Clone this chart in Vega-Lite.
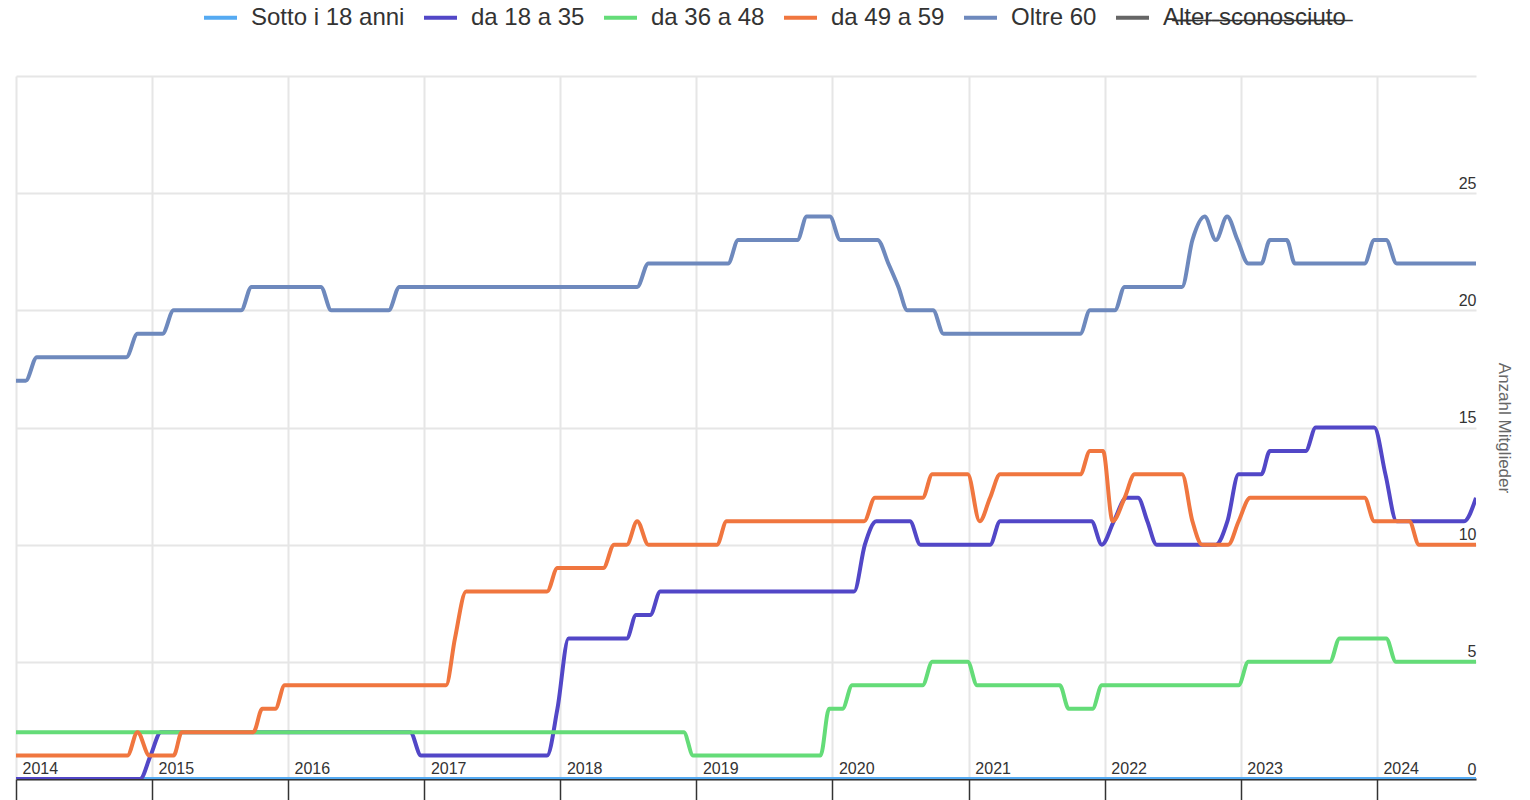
{
  "$schema": "https://vega.github.io/schema/vega-lite/v6.json",
  "width": 1460,
  "height": 703,
  "autosize": {"type": "none"},
  "padding": {"left": 16, "top": 76, "right": 54, "bottom": 21},
  "background": "white",
  "config": {
    "view": {"stroke": null},
    "font": "Liberation Sans"
  },
  "data": {
    "values": [
      {"s": "Sotto i 18 anni", "d": "2014-01-01", "v": 0},
      {"s": "Sotto i 18 anni", "d": "2024-09-23", "v": 0},

      {"s": "da 18 a 35", "d": "2014-01-01", "v": 0},
      {"s": "da 18 a 35", "d": "2014-11-30", "v": 0},
      {"s": "da 18 a 35", "d": "2014-12-28", "v": 1},
      {"s": "da 18 a 35", "d": "2015-01-25", "v": 2},
      {"s": "da 18 a 35", "d": "2016-11-24", "v": 2},
      {"s": "da 18 a 35", "d": "2016-12-23", "v": 1},
      {"s": "da 18 a 35", "d": "2017-11-26", "v": 1},
      {"s": "da 18 a 35", "d": "2017-12-24", "v": 3},
      {"s": "da 18 a 35", "d": "2018-01-23", "v": 6},
      {"s": "da 18 a 35", "d": "2018-06-28", "v": 6},
      {"s": "da 18 a 35", "d": "2018-07-23", "v": 7},
      {"s": "da 18 a 35", "d": "2018-08-30", "v": 7},
      {"s": "da 18 a 35", "d": "2018-09-26", "v": 8},
      {"s": "da 18 a 35", "d": "2020-02-28", "v": 8},
      {"s": "da 18 a 35", "d": "2020-03-28", "v": 10},
      {"s": "da 18 a 35", "d": "2020-04-28", "v": 11},
      {"s": "da 18 a 35", "d": "2020-07-27", "v": 11},
      {"s": "da 18 a 35", "d": "2020-08-24", "v": 10},
      {"s": "da 18 a 35", "d": "2021-02-27", "v": 10},
      {"s": "da 18 a 35", "d": "2021-03-26", "v": 11},
      {"s": "da 18 a 35", "d": "2021-11-26", "v": 11},
      {"s": "da 18 a 35", "d": "2021-12-24", "v": 10},
      {"s": "da 18 a 35", "d": "2022-01-25", "v": 11},
      {"s": "da 18 a 35", "d": "2022-02-28", "v": 12},
      {"s": "da 18 a 35", "d": "2022-03-31", "v": 12},
      {"s": "da 18 a 35", "d": "2022-04-25", "v": 11},
      {"s": "da 18 a 35", "d": "2022-05-20", "v": 10},
      {"s": "da 18 a 35", "d": "2022-10-26", "v": 10},
      {"s": "da 18 a 35", "d": "2022-11-26", "v": 11},
      {"s": "da 18 a 35", "d": "2022-12-26", "v": 13},
      {"s": "da 18 a 35", "d": "2023-02-25", "v": 13},
      {"s": "da 18 a 35", "d": "2023-03-20", "v": 14},
      {"s": "da 18 a 35", "d": "2023-06-24", "v": 14},
      {"s": "da 18 a 35", "d": "2023-07-21", "v": 15},
      {"s": "da 18 a 35", "d": "2023-12-25", "v": 15},
      {"s": "da 18 a 35", "d": "2024-01-24", "v": 13},
      {"s": "da 18 a 35", "d": "2024-02-23", "v": 11},
      {"s": "da 18 a 35", "d": "2024-08-22", "v": 11},
      {"s": "da 18 a 35", "d": "2024-09-23", "v": 12},

      {"s": "da 36 a 48", "d": "2014-01-01", "v": 2},
      {"s": "da 36 a 48", "d": "2018-11-28", "v": 2},
      {"s": "da 36 a 48", "d": "2018-12-23", "v": 1},
      {"s": "da 36 a 48", "d": "2019-11-30", "v": 1},
      {"s": "da 36 a 48", "d": "2019-12-23", "v": 3},
      {"s": "da 36 a 48", "d": "2020-01-28", "v": 3},
      {"s": "da 36 a 48", "d": "2020-02-23", "v": 4},
      {"s": "da 36 a 48", "d": "2020-08-30", "v": 4},
      {"s": "da 36 a 48", "d": "2020-09-25", "v": 5},
      {"s": "da 36 a 48", "d": "2020-12-29", "v": 5},
      {"s": "da 36 a 48", "d": "2021-01-23", "v": 4},
      {"s": "da 36 a 48", "d": "2021-09-02", "v": 4},
      {"s": "da 36 a 48", "d": "2021-09-26", "v": 3},
      {"s": "da 36 a 48", "d": "2021-11-29", "v": 3},
      {"s": "da 36 a 48", "d": "2021-12-24", "v": 4},
      {"s": "da 36 a 48", "d": "2022-12-26", "v": 4},
      {"s": "da 36 a 48", "d": "2023-01-21", "v": 5},
      {"s": "da 36 a 48", "d": "2023-08-28", "v": 5},
      {"s": "da 36 a 48", "d": "2023-09-23", "v": 6},
      {"s": "da 36 a 48", "d": "2024-01-26", "v": 6},
      {"s": "da 36 a 48", "d": "2024-02-21", "v": 5},
      {"s": "da 36 a 48", "d": "2024-09-23", "v": 5},

      {"s": "da 49 a 59", "d": "2014-01-01", "v": 1},
      {"s": "da 49 a 59", "d": "2014-10-27", "v": 1},
      {"s": "da 49 a 59", "d": "2014-11-23", "v": 2},
      {"s": "da 49 a 59", "d": "2014-12-25", "v": 1},
      {"s": "da 49 a 59", "d": "2015-02-28", "v": 1},
      {"s": "da 49 a 59", "d": "2015-03-22", "v": 2},
      {"s": "da 49 a 59", "d": "2015-09-30", "v": 2},
      {"s": "da 49 a 59", "d": "2015-10-24", "v": 3},
      {"s": "da 49 a 59", "d": "2015-11-28", "v": 3},
      {"s": "da 49 a 59", "d": "2015-12-23", "v": 4},
      {"s": "da 49 a 59", "d": "2017-02-28", "v": 4},
      {"s": "da 49 a 59", "d": "2017-03-24", "v": 6},
      {"s": "da 49 a 59", "d": "2017-04-23", "v": 8},
      {"s": "da 49 a 59", "d": "2017-11-26", "v": 8},
      {"s": "da 49 a 59", "d": "2017-12-24", "v": 9},
      {"s": "da 49 a 59", "d": "2018-04-26", "v": 9},
      {"s": "da 49 a 59", "d": "2018-05-25", "v": 10},
      {"s": "da 49 a 59", "d": "2018-06-28", "v": 10},
      {"s": "da 49 a 59", "d": "2018-07-26", "v": 11},
      {"s": "da 49 a 59", "d": "2018-08-25", "v": 10},
      {"s": "da 49 a 59", "d": "2019-02-25", "v": 10},
      {"s": "da 49 a 59", "d": "2019-03-23", "v": 11},
      {"s": "da 49 a 59", "d": "2020-03-26", "v": 11},
      {"s": "da 49 a 59", "d": "2020-04-24", "v": 12},
      {"s": "da 49 a 59", "d": "2020-08-30", "v": 12},
      {"s": "da 49 a 59", "d": "2020-09-25", "v": 13},
      {"s": "da 49 a 59", "d": "2020-12-29", "v": 13},
      {"s": "da 49 a 59", "d": "2021-01-30", "v": 11},
      {"s": "da 49 a 59", "d": "2021-02-27", "v": 12},
      {"s": "da 49 a 59", "d": "2021-03-26", "v": 13},
      {"s": "da 49 a 59", "d": "2021-10-27", "v": 13},
      {"s": "da 49 a 59", "d": "2021-11-22", "v": 14},
      {"s": "da 49 a 59", "d": "2021-12-27", "v": 14},
      {"s": "da 49 a 59", "d": "2022-01-22", "v": 11},
      {"s": "da 49 a 59", "d": "2022-02-23", "v": 12},
      {"s": "da 49 a 59", "d": "2022-03-22", "v": 13},
      {"s": "da 49 a 59", "d": "2022-07-27", "v": 13},
      {"s": "da 49 a 59", "d": "2022-08-24", "v": 11},
      {"s": "da 49 a 59", "d": "2022-09-19", "v": 10},
      {"s": "da 49 a 59", "d": "2022-11-28", "v": 10},
      {"s": "da 49 a 59", "d": "2022-12-26", "v": 11},
      {"s": "da 49 a 59", "d": "2023-01-26", "v": 12},
      {"s": "da 49 a 59", "d": "2023-11-29", "v": 12},
      {"s": "da 49 a 59", "d": "2023-12-25", "v": 11},
      {"s": "da 49 a 59", "d": "2024-03-28", "v": 11},
      {"s": "da 49 a 59", "d": "2024-04-23", "v": 10},
      {"s": "da 49 a 59", "d": "2024-09-23", "v": 10},

      {"s": "Oltre 60", "d": "2014-01-01", "v": 17},
      {"s": "Oltre 60", "d": "2014-01-27", "v": 17},
      {"s": "Oltre 60", "d": "2014-02-26", "v": 18},
      {"s": "Oltre 60", "d": "2014-10-24", "v": 18},
      {"s": "Oltre 60", "d": "2014-11-23", "v": 19},
      {"s": "Oltre 60", "d": "2015-01-29", "v": 19},
      {"s": "Oltre 60", "d": "2015-02-28", "v": 20},
      {"s": "Oltre 60", "d": "2015-08-28", "v": 20},
      {"s": "Oltre 60", "d": "2015-09-25", "v": 21},
      {"s": "Oltre 60", "d": "2016-03-29", "v": 21},
      {"s": "Oltre 60", "d": "2016-04-26", "v": 20},
      {"s": "Oltre 60", "d": "2016-09-27", "v": 20},
      {"s": "Oltre 60", "d": "2016-10-26", "v": 21},
      {"s": "Oltre 60", "d": "2018-07-26", "v": 21},
      {"s": "Oltre 60", "d": "2018-08-25", "v": 22},
      {"s": "Oltre 60", "d": "2019-03-27", "v": 22},
      {"s": "Oltre 60", "d": "2019-04-23", "v": 23},
      {"s": "Oltre 60", "d": "2019-09-29", "v": 23},
      {"s": "Oltre 60", "d": "2019-10-24", "v": 24},
      {"s": "Oltre 60", "d": "2019-12-25", "v": 24},
      {"s": "Oltre 60", "d": "2020-01-22", "v": 23},
      {"s": "Oltre 60", "d": "2020-05-01", "v": 23},
      {"s": "Oltre 60", "d": "2020-05-30", "v": 22},
      {"s": "Oltre 60", "d": "2020-06-26", "v": 21},
      {"s": "Oltre 60", "d": "2020-07-20", "v": 20},
      {"s": "Oltre 60", "d": "2020-09-27", "v": 20},
      {"s": "Oltre 60", "d": "2020-10-25", "v": 19},
      {"s": "Oltre 60", "d": "2021-10-27", "v": 19},
      {"s": "Oltre 60", "d": "2021-11-22", "v": 20},
      {"s": "Oltre 60", "d": "2022-01-28", "v": 20},
      {"s": "Oltre 60", "d": "2022-02-23", "v": 21},
      {"s": "Oltre 60", "d": "2022-07-27", "v": 21},
      {"s": "Oltre 60", "d": "2022-08-24", "v": 23},
      {"s": "Oltre 60", "d": "2022-09-26", "v": 24},
      {"s": "Oltre 60", "d": "2022-10-26", "v": 23},
      {"s": "Oltre 60", "d": "2022-11-25", "v": 24},
      {"s": "Oltre 60", "d": "2022-12-23", "v": 23},
      {"s": "Oltre 60", "d": "2023-01-21", "v": 22},
      {"s": "Oltre 60", "d": "2023-02-25", "v": 22},
      {"s": "Oltre 60", "d": "2023-03-20", "v": 23},
      {"s": "Oltre 60", "d": "2023-05-04", "v": 23},
      {"s": "Oltre 60", "d": "2023-05-26", "v": 22},
      {"s": "Oltre 60", "d": "2023-11-29", "v": 22},
      {"s": "Oltre 60", "d": "2023-12-25", "v": 23},
      {"s": "Oltre 60", "d": "2024-01-26", "v": 23},
      {"s": "Oltre 60", "d": "2024-02-23", "v": 22},
      {"s": "Oltre 60", "d": "2024-09-23", "v": 22}
    ]
  },
  "mark": {"type": "line", "interpolate": "monotone", "strokeWidth": 4, "clip": true},
  "encoding": {
    "x": {
      "field": "d",
      "type": "temporal",
      "scale": {"domain": ["2014-01-01", "2024-09-23"]},
      "axis": {
        "title": null,
        "format": "%Y",
        "tickCount": {"interval": "year", "step": 1},
        "grid": true,
        "gridColor": "#e6e6e6",
        "gridWidth": 2,
        "ticks": true,
        "tickSize": 21,
        "tickColor": "#333333",
        "tickWidth": 1.5,
        "domain": true,
        "domainColor": "#333333",
        "domainWidth": 2,
        "labelAlign": "left",
        "labelBaseline": "alphabetic",
        "labelPadding": -27,
        "labelOffset": 6,
        "labelFontSize": 16,
        "labelColor": "#333333",
        "labelFlush": false,
        "labelOverlap": false,
        "labelBound": false
      }
    },
    "y": {
      "field": "v",
      "type": "quantitative",
      "scale": {"domain": [0, 30]},
      "axis": {
        "orient": "right",
        "title": "Anzahl Mitglieder",
        "values": [0, 5, 10, 15, 20, 25, 30],
        "labelExpr": "datum.value == 30 ? '' : datum.label",
        "grid": true,
        "gridColor": "#e6e6e6",
        "gridWidth": 2,
        "ticks": false,
        "tickSize": 0,
        "domain": false,
        "labelAlign": "right",
        "labelBaseline": "alphabetic",
        "labelPadding": 0,
        "labelOffset": -5,
        "labelFontSize": 16,
        "labelColor": "#333333",
        "labelOverlap": false,
        "labelBound": false,
        "labelFlush": false,
        "titleFontSize": 17,
        "titleFontWeight": "normal",
        "titleColor": "#666666",
        "titleAngle": 90,
        "titleAlign": "center",
        "titleBaseline": "middle",
        "titleX": 27,
        "titleY": 351.5
      }
    },
    "color": {
      "field": "s",
      "type": "nominal",
      "scale": {
        "domain": ["Sotto i 18 anni", "da 18 a 35", "da 36 a 48", "da 49 a 59", "Oltre 60", "Alter sconosciuto"],
        "range": ["#55aaf2", "#5247c7", "#64dc78", "#f0763f", "#6e89bd", "#666666"]
      },
      "legend": {
        "title": null,
        "orient": "none",
        "legendX": 186,
        "legendY": -77,
        "direction": "horizontal",
        "columns": 6,
        "symbolType": "stroke",
        "symbolSize": 1089,
        "symbolStrokeWidth": 4,
        "labelFontSize": 24,
        "labelColor": "#333333",
        "labelOffset": 12,
        "columnPadding": 11,
        "labelLimit": 400,
        "labelExpr": "datum.label == 'Alter sconosciuto' ? 'A\u0336l\u0336t\u0336e\u0336r\u0336 \u0336s\u0336c\u0336o\u0336n\u0336o\u0336s\u0336c\u0336i\u0336u\u0336t\u0336o\u0336' : datum.label"
      }
    }
  }
}
